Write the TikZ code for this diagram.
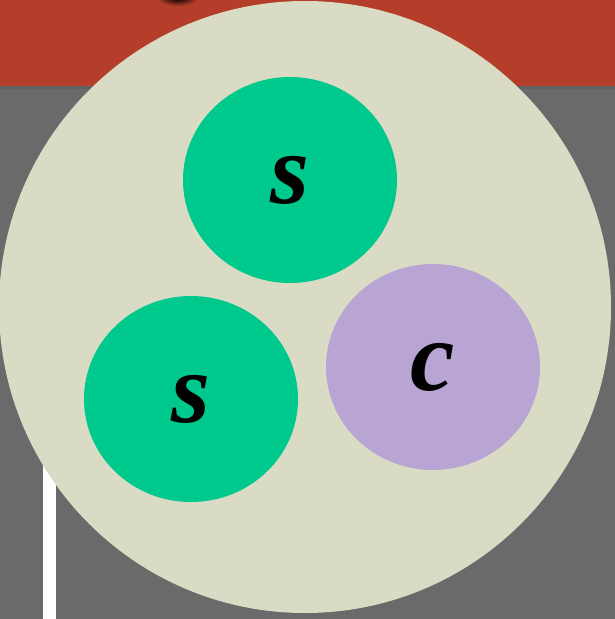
\documentclass[tikz,border=0pt]{standalone}
\usepackage{fontspec}
\setmainfont{Liberation Serif}
\definecolor{bandred}{HTML}{B43E2A}
\definecolor{bggray}{HTML}{6A6A6A}
\definecolor{beige}{HTML}{D9DBC5}
\definecolor{mint}{HTML}{00C98E}
\definecolor{lilac}{HTML}{B8A5D3}
\tikzset{
  inner/.style={ellipse, minimum width=214pt, minimum height=206pt, inner sep=0pt},
  lbl/.style={font=\fontsize{100}{100}\selectfont\bfseries\itshape, text=black}
}
\usetikzlibrary{shapes.geometric}
\begin{document}
\begin{tikzpicture}[x=1pt,y=-1pt]
\useasboundingbox (0,0) rectangle (615,619);
\fill[bggray] (0,0) rectangle (615,619);
\fill[bandred] (0,0) rectangle (615,86);
\fill[black!70, opacity=0.25] (0,86) rectangle (615,89);
\foreach \r/\o in {20/0.15,17/0.2,14/0.25,11/0.3,8/0.35}
  \fill[black, opacity=\o] (178,-3) ellipse ({\r pt} and {\r*0.45 pt});
\fill[white] (43,440) rectangle (56,619);
\node[circle, fill=beige, minimum size=612pt, inner sep=0pt] (big) at (305,307) {};
\node[inner, fill=mint] (s1) at (290,180) {};
\node[inner, fill=mint] (s2) at (191,399) {};
\node[inner, fill=lilac] (c) at (433,367) {};
\node[lbl] at (s1) {s};
\node[lbl] at (s2) {s};
\node[lbl] at (c) {c};
\end{tikzpicture}
\end{document}
